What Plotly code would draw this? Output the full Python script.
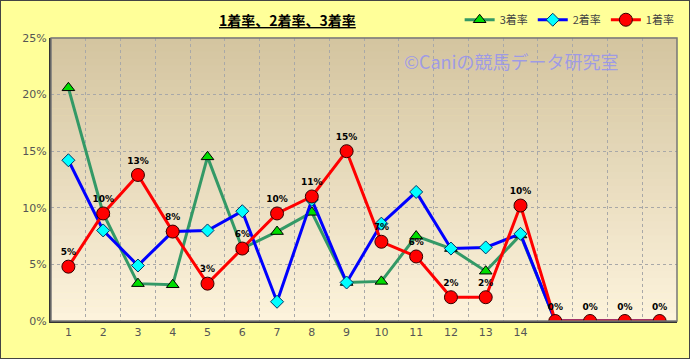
import plotly.graph_objects as go

x_vals = list(range(1, 19))
tick_text = [str(i) for i in range(1, 15)] + ["", "", "", ""]

rate1 = [4.8, 9.5, 12.9, 7.9, 3.3, 6.4, 9.5, 11.0, 15.0, 7.0, 5.7, 2.1, 2.1, 10.2, 0, 0, 0, 0]
rate2 = [14.2, 8.0, 4.9, 7.9, 8.0, 9.7, 1.7, 10.7, 3.4, 8.6, 11.4, 6.4, 6.5, 7.7, 0, 0, 0, 0]
rate3 = [20.6, 9.5, 3.3, 3.2, 14.5, 6.4, 7.9, 9.6, 3.4, 3.5, 7.5, 6.4, 4.4, 7.6, 0, 0, 0, 0]
labels1 = [f"{round(v)}%" for v in rate1]

fig = go.Figure()

fig.add_trace(go.Scatter(
    x=x_vals, y=rate3, name="3着率", mode="lines+markers",
    line=dict(color="#339966", width=3),
    marker=dict(symbol="triangle-up", size=11, color="#00DD00", line=dict(color="#000000", width=1)),
))
fig.add_trace(go.Scatter(
    x=x_vals, y=rate2, name="2着率", mode="lines+markers",
    line=dict(color="#0000FF", width=3),
    marker=dict(symbol="diamond", size=10, color="#00FFFF", line=dict(color="#003366", width=1)),
))
fig.add_trace(go.Scatter(
    x=x_vals, y=rate1, name="1着率", mode="lines+markers+text",
    text=labels1, textposition="top center",
    textfont=dict(family="DejaVu Sans", size=9, color="#000000", weight="bold"),
    line=dict(color="#FF0000", width=3),
    marker=dict(symbol="circle", size=13, color="#FF0000", line=dict(color="#330000", width=1)),
))

# gradient plot background
shapes = []
n = 40
top = (212, 197, 160)
bot = (253, 243, 220)
for i in range(n):
    t = i / (n - 1)
    c = tuple(int(top[k] + (bot[k] - top[k]) * t) for k in range(3))
    shapes.append(dict(
        type="rect", xref="x domain", yref="y domain",
        x0=0, x1=1, y0=1 - (i + 1) / n, y1=1 - i / n + 0.002,
        fillcolor=f"rgb{c}", line=dict(width=0), layer="below",
    ))
shapes.append(dict(type="rect", xref="x domain", yref="y domain", x0=0, x1=1, y0=0, y1=1,
                   line=dict(color="#777777", width=1.5), layer="above"))

fig.update_layout(
    width=690, height=359,
    margin=dict(l=51, r=13, t=38, b=38, autoexpand=False),
    paper_bgcolor="#FFFF99",
    plot_bgcolor="rgba(0,0,0,0)",
    shapes=shapes,
    showlegend=True,
    legend=dict(orientation="h", xref="container", yref="container",
                x=0.985, xanchor="right", y=0.945, yanchor="middle",
                bgcolor="rgba(0,0,0,0)", font=dict(family="Noto Sans CJK JP", size=11, color="#444444"),
                itemwidth=30, tracegroupgap=0),
    font=dict(family="Noto Sans CJK JP"),
    annotations=[
        dict(text="<b><u>1着率、2着率、3着率</u></b>", xref="paper", yref="paper",
             x=0.378, y=1 + 18 / 283, xanchor="center", yanchor="middle", showarrow=False,
             font=dict(family="Noto Sans CJK JP", size=14, color="#000000")),
        dict(text="©Caniの競馬データ研究室", xref="paper", yref="paper",
             x=0.735, y=0.92, xanchor="center", yanchor="middle", showarrow=False,
             font=dict(family="Noto Sans CJK JP", size=18, color="rgba(140,140,250,0.75)")),
    ],
)
# outer border around whole figure
fig.add_shape(type="rect", xref="paper", yref="paper",
              x0=-51/626, x1=1+13/626, y0=-38/283, y1=1+38/283,
              line=dict(color="#444444", width=2), layer="above")

fig.update_xaxes(
    range=[0.5, 18.5], tickvals=x_vals, ticktext=tick_text,
    showgrid=False, zeroline=False, showline=True, linecolor="#333333", linewidth=2,
    ticks="", tickfont=dict(family="DejaVu Sans", size=11, color="#555555"),
    minor=dict(tick0=0.5, dtick=1, showgrid=True, gridcolor="#A8A8A8", griddash="dot", gridwidth=1),
)
fig.update_yaxes(
    range=[0, 25], dtick=5, ticksuffix="%",
    showgrid=True, gridcolor="#A8A8A8", griddash="dot", gridwidth=1,
    zeroline=False, showline=True, linecolor="#333333", linewidth=2,
    ticks="", tickfont=dict(family="DejaVu Sans", size=11, color="#555555"),
)

fig.write_html("out.html")
